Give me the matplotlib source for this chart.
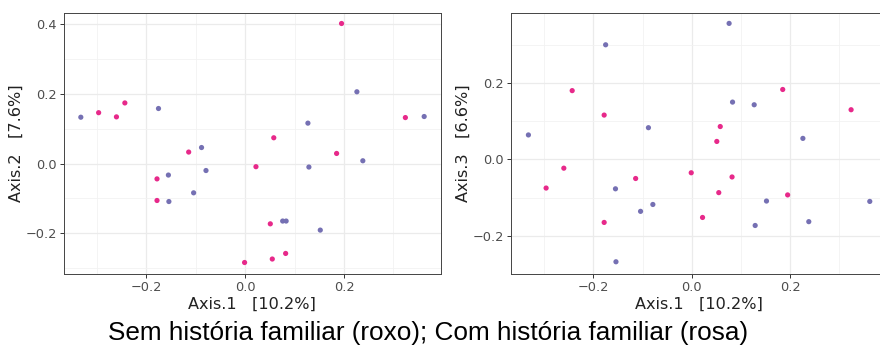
import matplotlib
matplotlib.use("Agg")
import matplotlib.pyplot as plt
import numpy as np

# PCoA coordinates (one row per sample)
axis1 = [-0.332, -0.296, -0.260, -0.243, -0.175, -0.114, -0.088, -0.079,
         -0.178, -0.155, -0.178, -0.154, -0.104, 0.195, 0.226, 0.324,
         0.362, 0.127, 0.058, 0.185, 0.238, 0.022, 0.129, 0.051,
         0.076, 0.083, 0.152, -0.001, 0.055, 0.082]
axis2 = [0.133, 0.146, 0.134, 0.174, 0.158, 0.033, 0.046, -0.020,
         -0.044, -0.033, -0.106, -0.109, -0.084, 0.402, 0.206, 0.132,
         0.135, 0.116, 0.074, 0.029, 0.008, -0.009, -0.010, -0.173,
         -0.165, -0.165, -0.191, -0.284, -0.274, -0.258]
axis3 = [0.064, -0.075, -0.023, 0.180, 0.300, -0.050, 0.083, -0.118,
         0.116, -0.077, -0.165, -0.268, -0.136, -0.093, 0.055, 0.130,
         -0.110, 0.143, 0.086, 0.183, -0.163, -0.152, -0.173, 0.047,
         0.356, 0.150, -0.109, -0.035, -0.087, -0.046]
# 0 = sem história familiar (roxo), 1 = com história familiar (rosa)
group = [0, 1, 1, 1, 0, 1, 0, 0, 1, 0, 1, 0, 0, 1, 0, 1,
         0, 0, 1, 1, 0, 1, 0, 1, 0, 0, 0, 1, 1, 1]

colors = {0: "#7570B3", 1: "#E7298A"}
ticks = [-0.2, 0.0, 0.2]
caption = "Sem história familiar (roxo); Com história familiar (rosa)"

W, H = 880, 347
fig = plt.figure(figsize=(W / 100, H / 100), dpi=100)

x = np.array(axis1)
c = [colors[k] for k in group]


def panel(rect, y, ylabel, xlim, ylim):
    ax = fig.add_axes(rect)
    ax.scatter(x, y, s=14, c=c, linewidths=0, zorder=3)
    ax.set_xlim(*xlim)
    ax.set_ylim(*ylim)
    ax.set_xticks(ticks)
    ax.set_yticks(ticks if ylim[1] < 0.4 else ticks + [0.4])
    ax.set_xticks([-0.3, -0.1, 0.1, 0.3], minor=True)
    ax.set_yticks([-0.3, -0.1, 0.1, 0.3], minor=True)
    ax.grid(True, which="major", color="#EBEBEB", lw=0.9, zorder=0)
    ax.grid(True, which="minor", color="#F2F2F2", lw=0.6, zorder=0)
    ax.tick_params(which="major", length=3, width=0.7, color="#333333",
                   labelcolor="#4D4D4D", labelsize=9.3, pad=2)
    ax.tick_params(which="minor", length=0)
    for s in ax.spines.values():
        s.set_color("#444444")
        s.set_linewidth(0.7)
    ax.set_xlabel("Axis.1   [10.2%]", fontsize=11.6, labelpad=2, color="#222222")
    ax.set_ylabel(ylabel, fontsize=11.6, labelpad=1, color="#222222")
    ax.set_axisbelow(True)
    return ax


def rect(l, t, r, b):
    return [l / W, 1 - b / H, (r - l) / W, (b - t) / H]


panel(rect(64, 12.7, 440.5, 274), np.array(axis2), "Axis.2   [7.6%]",
      (-0.366, 0.395), (-0.317, 0.433))
panel(rect(510.7, 12.7, 887, 274), np.array(axis3), "Axis.3   [6.6%]",
      (-0.368, 0.397), (-0.297, 0.384))

fig.text(428 / W, 1 - 340 / H, caption, ha="center", va="baseline",
         fontsize=18.8, family="Liberation Sans", color="black")

fig.savefig("out.png", dpi=100)
